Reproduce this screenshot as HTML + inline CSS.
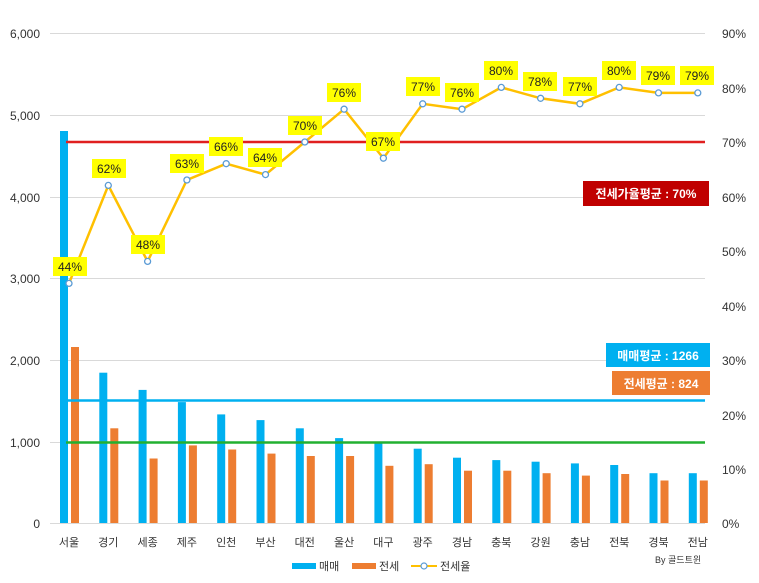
<!DOCTYPE html>
<html><head><meta charset="utf-8"><style>
body{margin:0;background:#fff}
svg{display:block;font-family:"Liberation Sans","Noto Sans CJK KR",sans-serif}
</style></head><body>
<svg width="759" height="583" xmlns="http://www.w3.org/2000/svg">
<g stroke="#d9d9d9" stroke-width="1">
<line x1="50" y1="33.5" x2="705" y2="33.5"/><line x1="50" y1="115.5" x2="705" y2="115.5"/>
<line x1="50" y1="197.5" x2="705" y2="197.5"/><line x1="50" y1="278.5" x2="705" y2="278.5"/>
<line x1="50" y1="360.5" x2="705" y2="360.5"/><line x1="50" y1="442.5" x2="705" y2="442.5"/>
<line x1="50" y1="523.5" x2="705" y2="523.5"/>
</g>
<g font-size="12" fill="#333" text-anchor="end">
<text x="40" y="38">6,000</text><text x="40" y="120">5,000</text><text x="40" y="202">4,000</text>
<text x="40" y="283">3,000</text><text x="40" y="365">2,000</text><text x="40" y="447">1,000</text><text x="40" y="528">0</text>
</g>
<g font-size="12" fill="#333">
<text x="722" y="38">90%</text><text x="722" y="93">80%</text><text x="722" y="147">70%</text>
<text x="722" y="202">60%</text><text x="722" y="256">50%</text><text x="722" y="311">40%</text>
<text x="722" y="365">30%</text><text x="722" y="420">20%</text><text x="722" y="474">10%</text><text x="722" y="528">0%</text>
</g>
<g fill="#00b0f0">
<rect x="60" y="131" width="8" height="392"/><rect x="99.3" y="372.7" width="8" height="150.3"/>
<rect x="138.6" y="389.9" width="8" height="133.1"/><rect x="177.9" y="402.1" width="8" height="120.9"/>
<rect x="217.2" y="414.4" width="8" height="108.6"/><rect x="256.5" y="420.1" width="8" height="102.9"/>
<rect x="295.8" y="428.3" width="8" height="94.7"/><rect x="335.1" y="438.1" width="8" height="84.9"/>
<rect x="374.4" y="442.1" width="8" height="80.9"/><rect x="413.7" y="448.7" width="8" height="74.3"/>
<rect x="453" y="457.7" width="8" height="65.3"/><rect x="492.3" y="460.1" width="8" height="62.9"/>
<rect x="531.6" y="461.7" width="8" height="61.3"/><rect x="570.9" y="463.4" width="8" height="59.6"/>
<rect x="610.2" y="465" width="8" height="58"/><rect x="649.5" y="473.2" width="8" height="49.8"/>
<rect x="688.8" y="473.2" width="8" height="49.8"/>
</g>
<g fill="#ed7d31">
<rect x="71" y="347" width="8" height="176"/><rect x="110.3" y="428.3" width="8" height="94.7"/>
<rect x="149.6" y="458.5" width="8" height="64.5"/><rect x="188.9" y="445.4" width="8" height="77.6"/>
<rect x="228.2" y="449.5" width="8" height="73.5"/><rect x="267.5" y="453.6" width="8" height="69.4"/>
<rect x="306.8" y="456" width="8" height="67"/><rect x="346.1" y="456" width="8" height="67"/>
<rect x="385.4" y="465.8" width="8" height="57.2"/><rect x="424.7" y="464.2" width="8" height="58.8"/>
<rect x="464" y="470.7" width="8" height="52.3"/><rect x="503.3" y="470.7" width="8" height="52.3"/>
<rect x="542.6" y="473.2" width="8" height="49.8"/><rect x="581.9" y="475.6" width="8" height="47.4"/>
<rect x="621.2" y="474" width="8" height="49"/><rect x="660.5" y="480.5" width="8" height="42.5"/>
<rect x="699.8" y="480.5" width="8" height="42.5"/>
</g>
<line x1="66" y1="142" x2="705" y2="142" stroke="#e02020" stroke-width="2.5"/>
<line x1="66" y1="400.5" x2="705" y2="400.5" stroke="#00b0f0" stroke-width="2.5"/>
<line x1="66" y1="442.5" x2="705" y2="442.5" stroke="#22b030" stroke-width="2.5"/>
<polyline fill="none" stroke="#ffc000" stroke-width="2.5" points="69,283.4 108.3,185.4 147.6,261.4 186.9,180 226.2,163.7 265.5,174.6 304.8,142 344.1,109.2 383.4,158.2 422.7,103.8 462,109.2 501.3,87.4 540.6,98.3 579.9,103.8 619.2,87.4 658.5,92.9 697.8,92.9"/>
<g fill="#fff" stroke="#5b9bd5" stroke-width="1.3">
<circle cx="69" cy="283.4" r="3"/><circle cx="108.3" cy="185.4" r="3"/><circle cx="147.6" cy="261.4" r="3"/>
<circle cx="186.9" cy="180" r="3"/><circle cx="226.2" cy="163.7" r="3"/><circle cx="265.5" cy="174.6" r="3"/>
<circle cx="304.8" cy="142" r="3"/><circle cx="344.1" cy="109.2" r="3"/><circle cx="383.4" cy="158.2" r="3"/>
<circle cx="422.7" cy="103.8" r="3"/><circle cx="462" cy="109.2" r="3"/><circle cx="501.3" cy="87.4" r="3"/>
<circle cx="540.6" cy="98.3" r="3"/><circle cx="579.9" cy="103.8" r="3"/><circle cx="619.2" cy="87.4" r="3"/>
<circle cx="658.5" cy="92.9" r="3"/><circle cx="697.8" cy="92.9" r="3"/>
</g>
<g fill="#ffff00">
<rect x="53" y="257" width="34" height="19"/><rect x="92" y="159" width="34" height="19"/>
<rect x="131" y="235" width="34" height="19"/><rect x="170" y="154" width="34" height="19"/>
<rect x="209" y="137" width="34" height="19"/><rect x="248" y="148" width="34" height="19"/>
<rect x="288" y="116" width="34" height="19"/><rect x="327" y="83" width="34" height="19"/>
<rect x="366" y="132" width="34" height="19"/><rect x="406" y="77" width="34" height="19"/>
<rect x="445" y="83" width="34" height="19"/><rect x="484" y="61" width="34" height="19"/>
<rect x="523" y="72" width="34" height="19"/><rect x="563" y="77" width="34" height="19"/>
<rect x="602" y="61" width="34" height="19"/><rect x="641" y="66" width="34" height="19"/>
<rect x="680" y="66" width="34" height="19"/>
</g>
<g font-size="12" fill="#222" text-anchor="middle">
<text x="70" y="271">44%</text><text x="109" y="173">62%</text><text x="148" y="249">48%</text>
<text x="187" y="168">63%</text><text x="226" y="151">66%</text><text x="265" y="162">64%</text>
<text x="305" y="130">70%</text><text x="344" y="97">76%</text><text x="383" y="146">67%</text>
<text x="423" y="91">77%</text><text x="462" y="97">76%</text><text x="501" y="75">80%</text>
<text x="540" y="86">78%</text><text x="580" y="91">77%</text><text x="619" y="75">80%</text>
<text x="658" y="80">79%</text><text x="697" y="80">79%</text>
</g>
<rect x="583" y="181" width="126" height="25" fill="#c00000"/>
<text x="646" y="198" font-size="12" font-weight="bold" fill="#fff" text-anchor="middle">전세가율평균 : 70%</text>
<rect x="606" y="343" width="104" height="24" fill="#00b0f0"/>
<text x="658" y="360" font-size="12" font-weight="bold" fill="#fff" text-anchor="middle">매매평균 : 1266</text>
<rect x="612" y="371" width="98" height="24" fill="#ed7d31"/>
<text x="661" y="388" font-size="12" font-weight="bold" fill="#fff" text-anchor="middle">전세평균 : 824</text>
<g font-size="11" fill="#333" text-anchor="middle">
<text x="69" y="546">서울</text><text x="108.3" y="546">경기</text><text x="147.6" y="546">세종</text>
<text x="186.9" y="546">제주</text><text x="226.2" y="546">인천</text><text x="265.5" y="546">부산</text>
<text x="304.8" y="546">대전</text><text x="344.1" y="546">울산</text><text x="383.4" y="546">대구</text>
<text x="422.7" y="546">광주</text><text x="462" y="546">경남</text><text x="501.3" y="546">충북</text>
<text x="540.6" y="546">강원</text><text x="579.9" y="546">충남</text><text x="619.2" y="546">전북</text>
<text x="658.5" y="546">경북</text><text x="697.8" y="546">전남</text>
</g>
<rect x="292" y="563" width="24" height="6" fill="#00b0f0"/>
<text x="319" y="570" font-size="11" fill="#333">매매</text>
<rect x="352" y="563" width="24" height="6" fill="#ed7d31"/>
<text x="379" y="570" font-size="11" fill="#333">전세</text>
<line x1="411" y1="566" x2="437" y2="566" stroke="#ffc000" stroke-width="2"/>
<circle cx="424" cy="566" r="3" fill="#fff" stroke="#5b9bd5" stroke-width="1.2"/>
<text x="440" y="570" font-size="11" fill="#333">전세율</text>
<text x="655" y="563" font-size="9" fill="#333">By 골드트윈</text>
</svg>
</body></html>
